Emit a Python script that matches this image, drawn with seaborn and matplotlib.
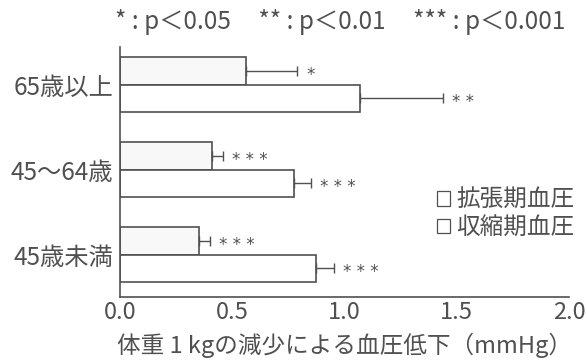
import pandas as pd
import matplotlib.pyplot as plt
import seaborn as sns
from matplotlib.patches import Patch

# Data
age_groups = ['65歳以上', '45〜64歳', '45歳未満']
diastolic = [0.56, 0.41, 0.35]
systolic = [1.07, 0.775, 0.875]
diastolic_err = [0.23, 0.05, 0.05]
systolic_err = [0.37, 0.075, 0.08]
diastolic_sig = ['*', '* * *', '* * *']
systolic_sig = ['* *', '* * *', '* * *']
series = ['拡張期血圧', '収縮期血圧']

data = pd.DataFrame({
    'age': age_groups * 2,
    'type': [series[0]] * 3 + [series[1]] * 3,
    'value': diastolic + systolic,
})

sns.set_style('white')
plt.rcParams['font.family'] = ['Noto Sans CJK JP', 'DejaVu Sans']
text_color = '#505050'
line_color = '#505050'

fig = plt.figure(figsize=(5.87, 3.6), dpi=100)
ax = fig.add_axes([0.2044, 0.175, 0.765, 0.694])

sns.barplot(data=data, y='age', x='value', hue='type', order=age_groups,
            hue_order=series, palette=['#f8f8f8', 'white'], width=0.64,
            edgecolor=line_color, linewidth=1.2, errorbar=None, legend=False, ax=ax)

# one-sided error bars and significance marks
errs = [diastolic_err, systolic_err]
sigs = [diastolic_sig, systolic_sig]
bar_containers = list(ax.containers)
for k, container in enumerate(bar_containers):
    for i, bar in enumerate(container.patches):
        yc = bar.get_y() + bar.get_height() / 2
        xend = bar.get_width()
        ax.errorbar(xend, yc, xerr=[[0], [errs[k][i]]], fmt='none',
                    ecolor=line_color, elinewidth=1.0, capsize=3.5, capthick=1.0)
        ax.text(xend + errs[k][i] + 0.04, yc + 0.05, sigs[k][i], fontsize=12,
                color=text_color, va='center', ha='left', family='DejaVu Sans')

ax.set_xlim(0, 2.0)
ax.set_ylim(2.5, -0.44)
ax.set_xticks([0, 0.5, 1.0, 1.5, 2.0])
ax.set_xticklabels(['0.0', '0.5', '1.0', '1.5', '2.0'])
ax.tick_params(axis='x', direction='in', length=5, color=line_color,
               labelsize=17, labelcolor=text_color, pad=3)
ax.tick_params(axis='y', length=0, labelsize=17.5, labelcolor=text_color, pad=5)
ax.set_ylabel('')
ax.set_xlabel('体重 1 kgの減少による血圧低下（mmHg）', fontsize=17,
              color=text_color, labelpad=6)
for side in ['top', 'right']:
    ax.spines[side].set_visible(False)
for side in ['left', 'bottom']:
    ax.spines[side].set_color(line_color)
    ax.spines[side].set_linewidth(1.2)

handles = [Patch(facecolor='white', edgecolor=line_color, linewidth=0.9) for _ in series]
ax.legend(handles, series, loc='upper left', bbox_to_anchor=(0.68, 0.48),
          frameon=False, fontsize=17, labelcolor=text_color, handlelength=0.55,
          handleheight=0.55, handletextpad=0.25, labelspacing=0.2, borderpad=0)

fig.text(0.58, 0.94, '* : p＜0.05     ** : p＜0.01     *** : p＜0.001',
         fontsize=17.5, color=text_color, ha='center', va='center')

fig.savefig('out.png', dpi=100)
